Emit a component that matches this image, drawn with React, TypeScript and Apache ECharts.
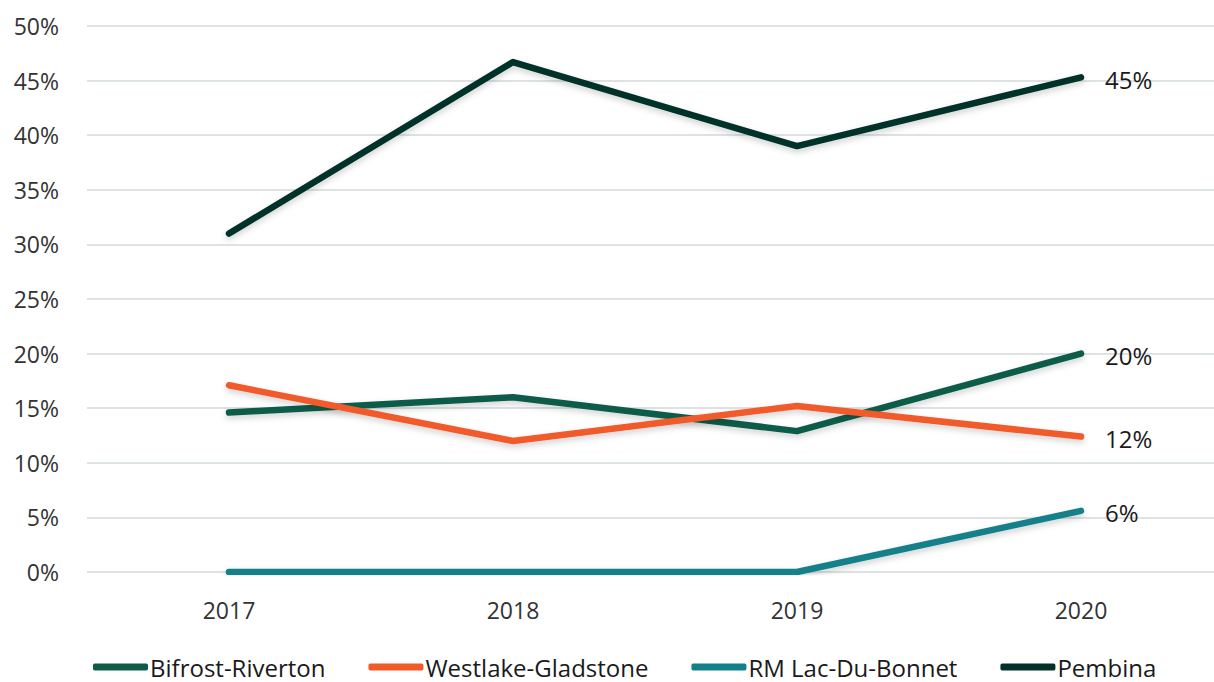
import React, { useEffect, useRef } from "react";
import * as echarts from "echarts";

const years = ["2017", "2018", "2019", "2020"];
const bifrost = [14.6, 16.0, 12.9, 20.0];
const westlake = [17.1, 12.0, 15.2, 12.4];
const lacDuBonnet = [0, 0, 0, 5.6];
const pembina = [31.0, 46.7, 39.0, 45.3];
const yTicks = [0, 5, 10, 15, 20, 25, 30, 35, 40, 45, 50];

const FONT = "'Open Sans', 'Noto Sans', sans-serif";

export default function App() {
  const ref = useRef<HTMLDivElement>(null);
  useEffect(() => {
    document.body.style.margin = "0";
    const chart = echarts.init(ref.current!, null, { renderer: "svg" });
    const mk = (name: string, data: number[], color: string) => ({
      name,
      type: "line",
      data,
      symbol: "none",
      lineStyle: {
        width: 6.5,
        color,
        cap: "round",
        join: "round",
        shadowColor: "rgba(0,0,0,0.18)",
        shadowBlur: 6,
        shadowOffsetY: 3,
      },
      itemStyle: { color },
      endLabel: {
        show: true,
        formatter: (p: any) => Math.round(p.value) + "%",
        fontFamily: FONT,
        fontSize: 24,
        color: "#1a1a1a",
        distance: 24,
        offset: [0, 2],
      },
    });
    chart.setOption({
      animation: false,
      textStyle: { fontFamily: FONT },
      grid: { left: 87, right: 0, top: 26, bottom: 110 },
      xAxis: {
        type: "category",
        data: years,
        boundaryGap: true,
        axisLine: { show: false },
        axisTick: { show: false },
        axisLabel: { fontSize: 23, color: "#333", margin: 26, fontFamily: FONT },
      },
      yAxis: {
        type: "value",
        min: yTicks[0],
        max: yTicks[yTicks.length - 1],
        interval: 5,
        axisLabel: {
          fontSize: 23,
          color: "#333",
          margin: 28,
          fontFamily: FONT,
          formatter: (v: number) => v + "%",
        },
        splitLine: { lineStyle: { color: "#dde3e3", width: 2 } },
      },
      legend: {
        bottom: -2,
        left: 88,
        icon: "roundRect",
        itemWidth: 55,
        itemHeight: 7,
        itemGap: 43,
        textStyle: { fontSize: 24, color: "#1a1a1a", fontFamily: FONT, padding: [0, 0, 0, -3] },
        data: ["Bifrost-Riverton", "Westlake-Gladstone", "RM Lac-Du-Bonnet", "Pembina"],
      },
      series: [
        mk("Bifrost-Riverton", bifrost, "#0e5b4a"),
        mk("Westlake-Gladstone", westlake, "#f15a29"),
        mk("RM Lac-Du-Bonnet", lacDuBonnet, "#13808a"),
        mk("Pembina", pembina, "#04302b"),
      ],
    });
    return () => chart.dispose();
  }, []);
  return (
    <div style={{ width: 1214, height: 682, overflow: "hidden" }}>
      <div ref={ref} style={{ width: 1223, height: 682 }} />
    </div>
  );
}
